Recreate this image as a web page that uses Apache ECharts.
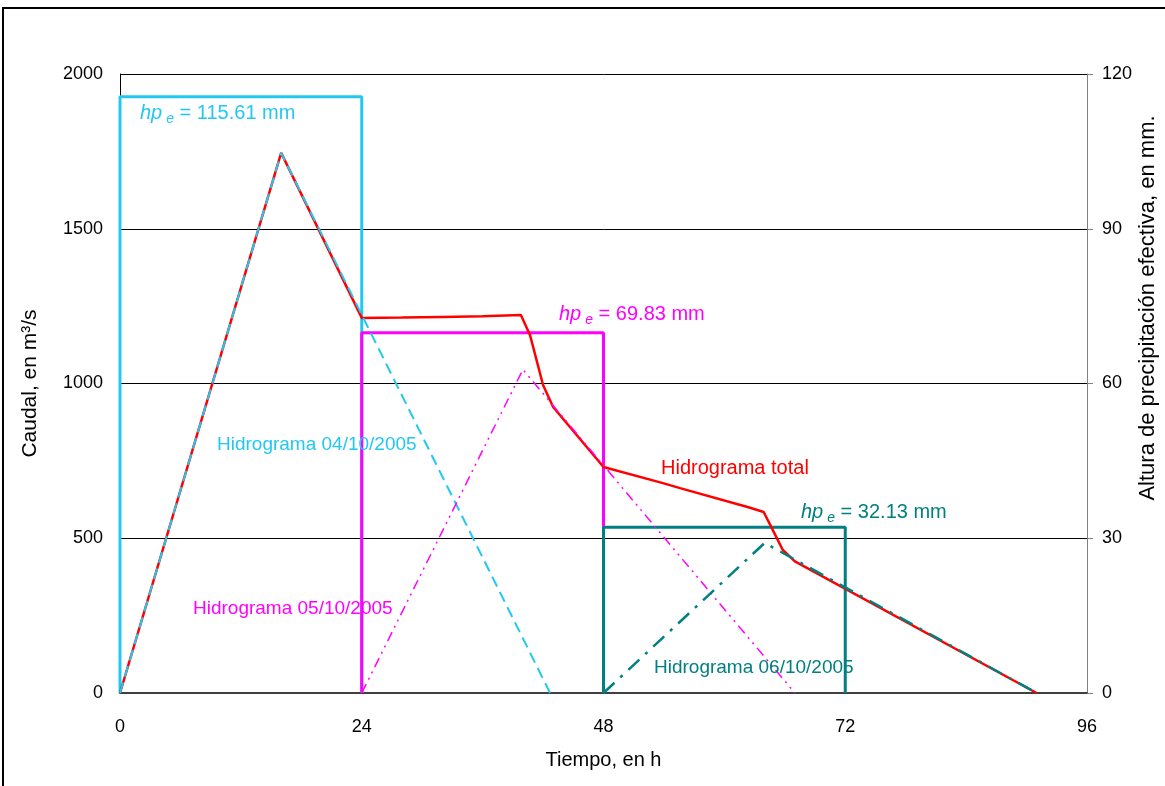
<!DOCTYPE html>
<html>
<head>
<meta charset="utf-8">
<script src="https://cdn.jsdelivr.net/npm/echarts@6/dist/echarts.min.js"></script>
<style>html,body{margin:0;padding:0;background:#fff}#c{width:1165px;height:786px}</style>
</head>
<body>
<div id="c"></div>
<script>
// ---- data ----
const xTicks = [0, 24, 48, 72, 96];
const qTicks = [0, 500, 1000, 1500, 2000];
const hpTicks = [0, 30, 60, 90, 120];

const cyanT = [0, 16, 42.7];
const cyanQ = [0, 1745, 0];
const magT = [24, 40, 67];
const magQ = [0, 1045, 0];
const tealT = [48, 64, 91];
const tealQ = [0, 485, 0];

const totalT = [0, 16, 24, 28, 32, 36, 39.8, 40.7, 42, 43, 48, 53.9, 55.6, 62.3, 63.9, 64.8, 65.8, 67, 91];
const totalQ = [0, 1745, 1212, 1213, 1215, 1217, 1221, 1157, 995, 924, 730, 678, 662, 601, 585, 527, 462, 425, 0];

const rainStart = [0, 24, 48];
const rainEnd = [24, 48, 72];
const rainDepth = [115.61, 69.83, 32.13];

const CYAN = '#22C8F2', MAG = '#FF00FF', TEAL = '#008080', RED = '#FF0000';
const FONT = '"Liberation Sans", Arial, sans-serif';

function pts(t, v) { return t.map((x, i) => [x, v[i]]); }
function rect(i) {
  return [[rainStart[i], 0], [rainStart[i], rainDepth[i]], [rainEnd[i], rainDepth[i]], [rainEnd[i], 0]];
}

const chart = echarts.init(document.getElementById('c'), null, {renderer: 'canvas'});

function line(name, data, color, width, type, yIdx, z) {
  return {
    name, type: 'line', data, yAxisIndex: yIdx, showSymbol: false, symbol: 'none',
    silent: true, z: z, animation: false,
    lineStyle: {color, width, type}
  };
}

const hpeRich = (c) => ({
  i: {fontStyle: 'italic', fontSize: 20, fill: c, fontFamily: FONT, lineHeight: 26, verticalAlign: 'middle'},
  s: {fontStyle: 'italic', fontSize: 14, fill: c, fontFamily: FONT, lineHeight: 26, verticalAlign: 'bottom', padding: [0, 0, 0, 4]},
  n: {fontSize: 20, fill: c, fontFamily: FONT, lineHeight: 26, verticalAlign: 'middle'}
});

function txt(x, y, text, color, size) {
  return {type: 'text', x, y, silent: true, z: 50,
    style: {text, fill: color, fontSize: size, fontFamily: FONT, textVerticalAlign: 'middle', verticalAlign: 'middle'}};
}
function hpe(x, y, val, color) {
  return {type: 'text', x, y, silent: true, z: 50,
    style: {text: '{i|hp}{s|e}{n| = ' + val + ' mm}', rich: hpeRich(color), fill: color,
      textVerticalAlign: 'middle', verticalAlign: 'middle'}};
}

const option = {
  animation: false,
  backgroundColor: '#fff',
  textStyle: {fontFamily: FONT},
  grid: {left: 120, right: 78, top: 74, bottom: 93, containLabel: false},
  xAxis: {
    type: 'value', min: 0, max: 96, interval: 24,
    name: 'Tiempo, en h', nameLocation: 'middle', nameGap: 57,
    nameTextStyle: {fontSize: 20, color: '#000', fontFamily: FONT},
    axisLine: {show: true, lineStyle: {color: '#404040', width: 2}},
    axisTick: {show: false},
    axisLabel: {fontSize: 18, color: '#000', margin: 25, fontFamily: FONT, formatter: (v) => String(v)},
    splitLine: {show: false}
  },
  yAxis: [{
    type: 'value', min: 0, max: 2000, interval: 500, position: 'left',
    name: 'Caudal, en m³/s', nameLocation: 'middle', nameGap: 79, nameRotate: 90,
    nameTextStyle: {fontSize: 21, color: '#000', fontFamily: FONT},
    axisLine: {show: true, lineStyle: {color: '#000', width: 1}},
    axisTick: {show: false},
    axisLabel: {fontSize: 18, color: '#000', margin: 17, fontFamily: FONT, formatter: (v) => String(v)},
    splitLine: {show: true, lineStyle: {color: '#000', width: 1}}
  }, {
    type: 'value', min: 0, max: 120, interval: 30, position: 'right',
    axisLine: {show: true, lineStyle: {color: '#808080', width: 1}},
    axisTick: {show: true, inside: false, length: 6, lineStyle: {color: '#808080'}},
    axisLabel: {fontSize: 18, color: '#000', margin: 15, fontFamily: FONT, formatter: (v) => String(v)},
    splitLine: {show: false}
  }],
  series: [
    line('rain1', rect(0), CYAN, 3, 'solid', 1, 3),
    line('rain2', rect(1), MAG, 3, 'solid', 1, 3),
    line('rain3', rect(2), TEAL, 3, 'solid', 1, 3),
    line('Hidrograma total', pts(totalT, totalQ), RED, 2.5, 'solid', 0, 4),
    line('Hidrograma 04/10/2005', pts(cyanT, cyanQ), CYAN, 2, [11, 6], 0, 5),
    line('Hidrograma 05/10/2005', pts(magT, magQ), MAG, 1.5, [10, 5, 2, 5, 2, 5], 0, 5),
    line('Hidrograma 06/10/2005', pts(tealT, tealQ), TEAL, 2.5, [15, 8, 3, 8], 0, 5)
  ],
  graphic: [
    {type: 'rect', silent: true, z: 0, shape: {x: 3, y: 8, width: 1200, height: 820},
     style: {fill: 'none', stroke: '#000', lineWidth: 2}},
    hpe(140, 113, '115.61', CYAN),
    hpe(559, 314, '69.83', MAG),
    hpe(801, 512, '32.13', TEAL),
    txt(217, 445, 'Hidrograma 04/10/2005', CYAN, 19),
    txt(193, 609, 'Hidrograma 05/10/2005', MAG, 19),
    txt(661, 468, 'Hidrograma total', RED, 20),
    txt(654, 668, 'Hidrograma 06/10/2005', TEAL, 19),
    {type: 'text', x: 1148, y: 308, rotation: Math.PI / 2, silent: true, z: 50,
     style: {text: 'Altura de precipitación efectiva, en mm.', fill: '#000', fontSize: 22, fontFamily: FONT,
       textAlign: 'center', align: 'center', textVerticalAlign: 'middle', verticalAlign: 'middle'}}
  ]
};
chart.setOption(option);
</script>
</body>
</html>
